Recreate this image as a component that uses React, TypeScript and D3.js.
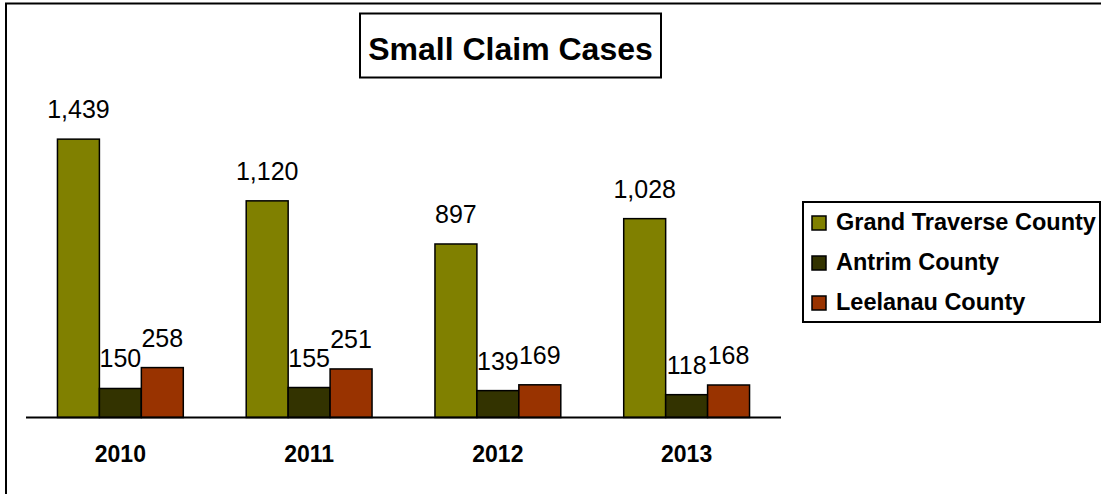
import React from 'react';
import * as d3 from 'd3';

const years = ['2010', '2011', '2012', '2013'];
const seriesNames = ['Grand Traverse County', 'Antrim County', 'Leelanau County'];
const grandTraverse = [1439, 1120, 897, 1028];
const antrim = [150, 155, 139, 118];
const leelanau = [258, 251, 169, 168];
const colors = ['#808000', '#333300', '#993300'];

const font = '"Liberation Sans", Arial, sans-serif';

const App = () => {
    const width = 1101;
    const height = 494;
    const series = [grandTraverse, antrim, leelanau];

    // plot area
    const left = 26, right = 781, base = 417.5, top = 108;

    const xScale = d3.scaleBand().domain(years).range([left, right]).paddingInner(0).paddingOuter(0);
    const step = xScale.step();
    const groupW = step / 1.5; // gap width 150%
    const xInner = d3.scaleBand().domain(seriesNames).range([0, groupW]);
    const yScale = d3.scaleLinear().domain([0, 1600]).range([base, top]);

    const fmt = d3.format(',');

    return (
        <svg width={width} height={height} style={{ position: 'absolute', left: 0, top: 0, background: '#fff' }}>
            <rect x={6} y={3.5} width={1200} height={600} fill="#fff" stroke="#000" strokeWidth={2} />

            {/* title */}
            <rect x={360} y={13.5} width={301} height={64} fill="#fff" stroke="#000" strokeWidth={2} />
            <text x={510.5} y={60} textAnchor="middle" fontFamily={font} fontWeight="bold" fontSize={32}>Small Claim Cases</text>

            {/* bars */}
            {years.map((yr, i) => {
                const gx = xScale(yr)! + (step - groupW) / 2;
                return (
                    <g key={yr}>
                        {series.map((vals, s) => {
                            const v = vals[i];
                            const bx = gx + xInner(seriesNames[s])!;
                            const bw = xInner.bandwidth();
                            return (
                                <g key={s}>
                                    <rect x={bx} y={yScale(v)} width={bw} height={base - yScale(v)}
                                        fill={colors[s]} stroke="#000" strokeWidth={1.5} />
                                    <text x={bx + bw / 2} y={yScale(v) - 21} textAnchor="middle"
                                        fontFamily={font} fontSize={25} fill="#000">{fmt(v)}</text>
                                </g>
                            );
                        })}
                        <text x={xScale(yr)! + step / 2} y={461.5} textAnchor="middle" fontFamily={font}
                            fontWeight="bold" fontSize={23}>{yr}</text>
                    </g>
                );
            })}

            {/* baseline */}
            <line x1={left} x2={right} y1={base} y2={base} stroke="#000" strokeWidth={2} />

            {/* legend */}
            <rect x={803} y={202} width={297} height={120} fill="#fff" stroke="#000" strokeWidth={2} />
            {seriesNames.map((name, s) => (
                <g key={name} transform={`translate(812,${216 + s * 40})`}>
                    <rect x={0} y={0} width={14} height={14} fill={colors[s]} stroke="#000" strokeWidth={1.5} />
                    <text x={24} y={14} fontFamily={font} fontWeight="bold" fontSize={23.5}>{name}</text>
                </g>
            ))}
        </svg>
    );
};

export default App;
